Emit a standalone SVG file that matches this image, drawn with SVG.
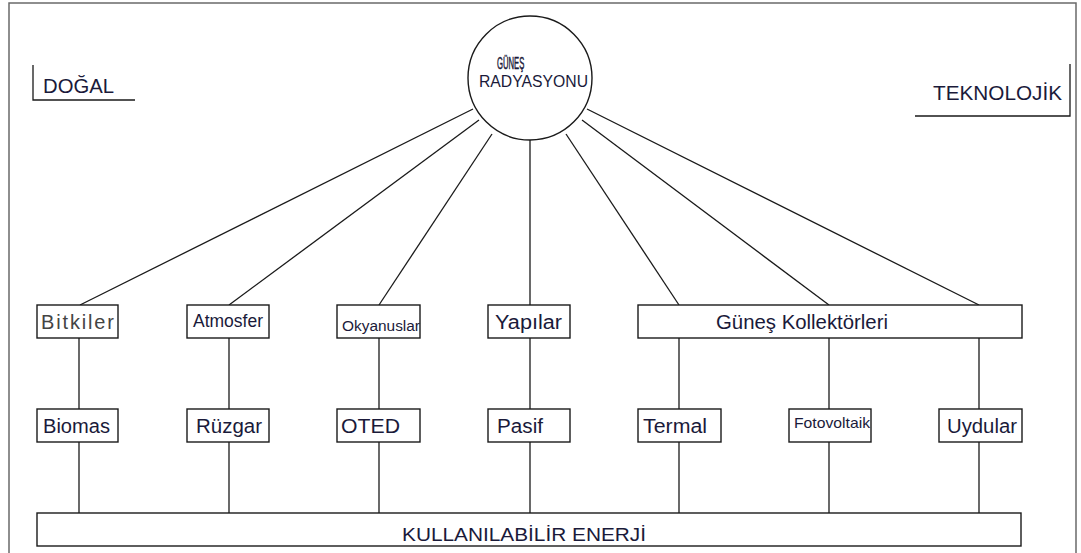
<svg xmlns="http://www.w3.org/2000/svg" width="1081" height="553" viewBox="0 0 1081 553">
<style>
  .frame{fill:none;stroke:#6a6a6a;stroke-width:1.5}
  .box{fill:#fff;stroke:#1a1a1a;stroke-width:1.4}
  .ln{fill:none;stroke:#1a1a1a;stroke-width:1.3}
  .t{font-family:"Liberation Sans",Arial,sans-serif;fill:#1a1a3a}
  .big{font-size:20px}
</style>
<rect width="1081" height="553" fill="#fff"/>
<path class="frame" d="M9,553 V3 H1076 V553"/>

<g id="dogal">
  <path class="ln" d="M33,65 V100 H135"/>
  <text class="t" x="43" y="93" font-size="20" textLength="71" lengthAdjust="spacingAndGlyphs">DOĞAL</text>
</g>
<g id="teknolojik">
  <path class="ln" d="M915,116 H1070 V64"/>
  <text class="t" x="933" y="100" font-size="20" textLength="129" lengthAdjust="spacingAndGlyphs">TEKNOLOJİK</text>
</g>

<g id="connectors">
  <line class="ln" x1="473" y1="109" x2="80" y2="305"/>
  <line class="ln" x1="479" y1="120" x2="229" y2="305"/>
  <line class="ln" x1="492" y1="134" x2="379" y2="305"/>
  <line class="ln" x1="530" y1="140" x2="530" y2="305"/>
  <line class="ln" x1="566" y1="134" x2="679" y2="305"/>
  <line class="ln" x1="582" y1="120" x2="829" y2="305"/>
  <line class="ln" x1="587" y1="109" x2="979" y2="305"/>
  <line class="ln" x1="79" y1="338" x2="79" y2="409"/>
  <line class="ln" x1="229" y1="338" x2="229" y2="409"/>
  <line class="ln" x1="379" y1="338" x2="379" y2="409"/>
  <line class="ln" x1="530" y1="338" x2="530" y2="409"/>
  <line class="ln" x1="679" y1="338" x2="679" y2="409"/>
  <line class="ln" x1="829" y1="338" x2="829" y2="409"/>
  <line class="ln" x1="979" y1="338" x2="979" y2="409"/>
  <line class="ln" x1="79" y1="442" x2="79" y2="513"/>
  <line class="ln" x1="229" y1="442" x2="229" y2="513"/>
  <line class="ln" x1="379" y1="442" x2="379" y2="513"/>
  <line class="ln" x1="530" y1="442" x2="530" y2="513"/>
  <line class="ln" x1="679" y1="442" x2="679" y2="513"/>
  <line class="ln" x1="829" y1="442" x2="829" y2="513"/>
  <line class="ln" x1="979" y1="442" x2="979" y2="513"/>
</g>

<g id="gunes">
  <circle cx="530" cy="78" r="62" fill="#fff" stroke="#1a1a1a" stroke-width="1.4"/>
  <text class="t" transform="translate(497,68.5) scale(0.48,1)" x="0" y="0" font-size="16" stroke="#1a1a3a" stroke-width="0.5">GÜNEŞ</text>
  <text class="t" x="479" y="87" font-size="16" textLength="109" lengthAdjust="spacingAndGlyphs">RADYASYONU</text>
</g>

<g id="bitkiler">
  <rect class="box" x="37" y="305" width="81" height="33"/>
  <text class="t" x="41" y="329" font-size="20" style="fill:#444" textLength="73" lengthAdjust="spacing">Bitkiler</text>
</g>
<g id="atmosfer">
  <rect class="box" x="187" y="305" width="82" height="33"/>
  <text class="t" x="193" y="327" font-size="18" textLength="70" lengthAdjust="spacingAndGlyphs">Atmosfer</text>
</g>
<g id="okyanuslar">
  <rect class="box" x="337" y="305" width="83" height="33"/>
  <text class="t" x="342" y="331" font-size="14" textLength="78" lengthAdjust="spacingAndGlyphs">Okyanuslar</text>
</g>
<g id="yapilar">
  <rect class="box" x="488" y="305" width="82" height="33"/>
  <text class="t big" x="495" y="329" textLength="67" lengthAdjust="spacingAndGlyphs">Yapılar</text>
</g>
<g id="kollektorler">
  <rect class="box" x="638" y="305" width="384" height="33"/>
  <text class="t big" x="716" y="329" textLength="172" lengthAdjust="spacingAndGlyphs">Güneş Kollektörleri</text>
</g>

<g id="biomas">
  <rect class="box" x="37" y="409" width="81" height="33"/>
  <text class="t big" x="43" y="433" textLength="67" lengthAdjust="spacingAndGlyphs">Biomas</text>
</g>
<g id="ruzgar">
  <rect class="box" x="187" y="409" width="82" height="33"/>
  <text class="t big" x="196" y="433" textLength="66" lengthAdjust="spacingAndGlyphs">Rüzgar</text>
</g>
<g id="oted">
  <rect class="box" x="337" y="409" width="83" height="33"/>
  <text class="t big" x="341" y="433" textLength="59" lengthAdjust="spacingAndGlyphs">OTED</text>
</g>
<g id="pasif">
  <rect class="box" x="488" y="409" width="82" height="33"/>
  <text class="t big" x="497" y="433" textLength="46" lengthAdjust="spacingAndGlyphs">Pasif</text>
</g>
<g id="termal">
  <rect class="box" x="638" y="409" width="83" height="33"/>
  <text class="t big" x="643" y="433" textLength="64" lengthAdjust="spacingAndGlyphs">Termal</text>
</g>
<g id="fotovoltaik">
  <rect class="box" x="789" y="409" width="82" height="33"/>
  <text class="t" x="794" y="428" font-size="15" textLength="76" lengthAdjust="spacingAndGlyphs">Fotovoltaik</text>
</g>
<g id="uydular">
  <rect class="box" x="939" y="409" width="83" height="33"/>
  <text class="t big" x="947" y="433" textLength="70" lengthAdjust="spacingAndGlyphs">Uydular</text>
</g>

<g id="enerji">
  <rect class="box" x="37" y="513" width="984" height="33"/>
  <text class="t" x="402" y="541" font-size="19" textLength="244" lengthAdjust="spacingAndGlyphs">KULLANILABİLİR ENERJİ</text>
</g>
</svg>
